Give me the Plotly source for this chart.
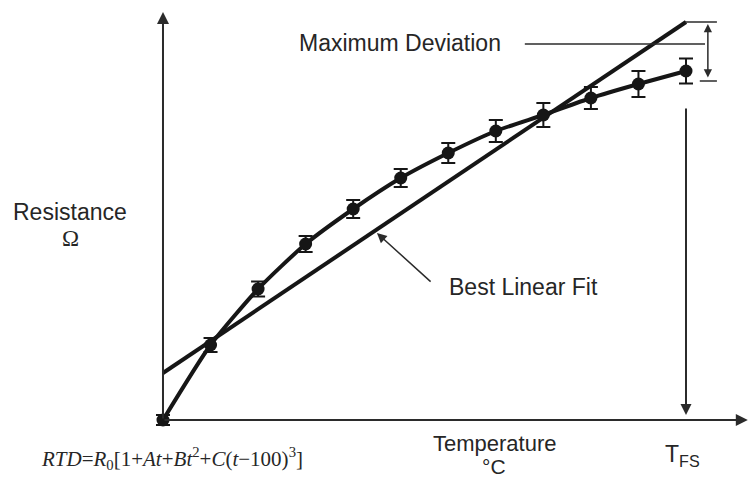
import plotly.graph_objects as go

# Temperature steps (arbitrary units) and measured resistance (arbitrary units)
temperature = [0, 1, 2, 3, 4, 5, 6, 7, 8, 9, 10, 11]
resistance = [0.0, 7.5, 13.1, 17.6, 21.1, 24.2, 26.7, 28.9, 30.5, 32.2, 33.6, 34.9]
error = [0.5, 0.7, 0.75, 0.8, 0.9, 0.9, 1.0, 1.1, 1.2, 1.1, 1.3, 1.25]

# Best linear fit endpoints
fit_t = [0, 11]
fit_r = [4.7, 39.8]

INK = "#161616"
AX = "#2b2b2b"
SANS = "Liberation Sans, Arial, sans-serif"
SERIF = "Liberation Serif, Times New Roman, serif"

XR = [-3.428, 12.346]
YR = [-6.2, 42.0]
W, H = 750, 482


def px(xp):
    return xp / W


def py(yp):
    return 1 - yp / H


fig = go.Figure()

fig.add_trace(go.Scatter(
    x=fit_t, y=fit_r, mode="lines",
    line=dict(color=INK, width=4), hoverinfo="skip", showlegend=False))

fig.add_trace(go.Scatter(
    x=temperature, y=resistance, mode="lines+markers",
    line=dict(color=INK, width=4, shape="spline", smoothing=0.6),
    marker=dict(color=INK, size=13),
    error_y=dict(type="data", array=error, color=INK, thickness=2, width=7),
    hoverinfo="skip", showlegend=False))

ann = []


def arrow(x, y, ax, ay, head=2, side="end", width=2, color=AX, size=1.2):
    ann.append(dict(x=x, y=y, ax=ax, ay=ay, xref="x", yref="y", axref="x", ayref="y",
                    text="", showarrow=True, arrowhead=head, arrowside=side,
                    arrowwidth=width, arrowcolor=color, arrowsize=size))


# axes
arrow(0, 40.8, 0, 0)
arrow(12.3, 0, 0, 0)
# T_FS vertical arrow
arrow(11, 0.5, 11, 31.3, size=1.1)
# best linear fit pointer
arrow(4.5, 18.7, 5.66, 13.7, head=2, width=1.5, size=1.3)
# maximum deviation double arrow
arrow(11.46, 39.6, 11.46, 34.1, head=2, side="end+start", width=1.5, size=1.1)

shapes = [
    dict(type="line", xref="x", yref="y", x0=10.98, x1=11.65, y0=39.8, y1=39.8,
         line=dict(color=AX, width=1.5)),
    dict(type="line", xref="x", yref="y", x0=11.29, x1=11.65, y0=33.9, y1=33.9,
         line=dict(color=AX, width=1.5)),
    dict(type="line", xref="x", yref="y", x0=7.61, x1=11.40, y0=37.6, y1=37.6,
         line=dict(color=AX, width=1.5)),
]


def label(text, xp, yp, size=23, family=SANS, xanchor="center"):
    ann.append(dict(x=px(xp), y=py(yp), xref="paper", yref="paper", text=text,
                    showarrow=False, font=dict(family=family, size=size, color="#262626"),
                    xanchor=xanchor, yanchor="middle", align="center", borderpad=0))


label("Maximum Deviation", 400, 43)
label("Best Linear Fit", 523, 287)
label("Resistance", 70, 212)
label("Ω", 70, 238, size=23, family=SERIF)
label("Temperature", 495, 443, size=22)
label("°C", 494, 466, size=21)
label("T<sub>FS</sub>", 664, 455, xanchor="left")
label("<i>RTD</i>=<i>R</i><sub>0</sub>[1+<i>At</i>+<i>Bt</i><sup>2</sup>+<i>C</i>(<i>t</i>−100)<sup>3</sup>]",
      40, 458, size=21, family=SERIF, xanchor="left")

fig.update_layout(
    width=W, height=H, autosize=False,
    margin=dict(l=0, r=0, t=0, b=0),
    paper_bgcolor="white", plot_bgcolor="white",
    xaxis=dict(range=XR, visible=False, fixedrange=True),
    yaxis=dict(range=YR, visible=False, fixedrange=True),
    annotations=ann, shapes=shapes, showlegend=False,
)

fig.write_html("out.html")
